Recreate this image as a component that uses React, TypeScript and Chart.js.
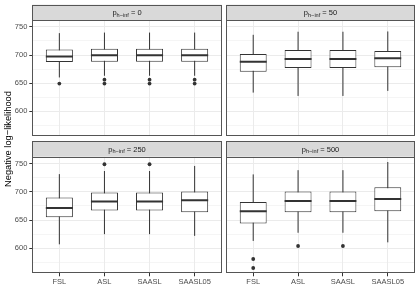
import { useEffect, useRef } from "react";
import { Chart, registerables } from "chart.js";

Chart.register(...registerables);

// ---------- data ----------
const categories = ["FSL", "ASL", "SAASL", "SAASL05"];
const panelValues = ["0", "50", "250", "500"];
const stripPrefix = "p";
const stripSubscript = "h−inf";
const yAxisTitle = "Negative log−likelihood";
const yTickLabels = [600, 650, 700, 750];

// p_h-inf = 0
const low0 = [660, 663, 663, 663];
const q1_0 = [687.5, 688, 688, 688];
const med0 = [697.5, 699.5, 699.5, 699.5];
const q3_0 = [710, 711, 711, 711];
const high0 = [739, 740, 740, 740];
const out0 = [[649], [656, 649], [656, 649], [656, 649]];

// p_h-inf = 50
const low50 = [633, 627, 627, 636];
const q1_50 = [670, 677, 677, 678];
const med50 = [688, 693, 693, 694];
const q3_50 = [702, 709, 709, 707];
const high50 = [736, 741.5, 741.5, 742];
const out50: number[][] = [[], [], [], []];

// p_h-inf = 250
const low250 = [607, 625, 625, 622];
const q1_250 = [655, 667, 667, 664];
const med250 = [671.5, 683, 683, 685];
const q3_250 = [690, 699, 699, 700.5];
const high250 = [731.5, 737, 737, 746];
const out250 = [[], [749], [749], []];

// p_h-inf = 500
const low500 = [613, 627.5, 627.5, 610.5];
const q1_500 = [644, 664, 664, 665.5];
const med500 = [665.5, 684, 684, 687.5];
const q3_500 = [682, 700.5, 700.5, 708];
const high500 = [731, 738.5, 738.5, 753];
const out500 = [[581, 565], [604], [604], []];

const panels = [
  { value: panelValues[0], low: low0, q1: q1_0, med: med0, q3: q3_0, high: high0, out: out0 },
  { value: panelValues[1], low: low50, q1: q1_50, med: med50, q3: q3_50, high: high50, out: out50 },
  { value: panelValues[2], low: low250, q1: q1_250, med: med250, q3: q3_250, high: high250, out: out250 },
  { value: panelValues[3], low: low500, q1: q1_500, med: med500, q3: q3_500, high: high500, out: out500 },
];

// shared y range with 5% expansion (ggplot default)
const allVals = panels.flatMap((p) => [...p.low, ...p.high, ...p.out.flat()]);
const dMin = Math.min(...allVals);
const dMax = Math.max(...allVals);
const Y_MIN = dMin - (dMax - dMin) * 0.05;
const Y_MAX = dMax + (dMax - dMin) * 0.05;

// ---------- layout / style ----------
const W = 420;
const H = 300;
const COLS = [
  { left: 32.3, right: 221.7 },
  { left: 226.3, right: 414.7 },
];
const ROWS = [
  { top: 20, bottom: 136 },
  { top: 156.7, bottom: 273.3 },
];
const STRIP_H = 15.3;
const FONT = "'Liberation Sans', Arial, sans-serif";
const DARK = "#333333";
const GRID = "#ebebeb";
const BOX_WIDTH = 0.6;

const isMajor = (v: number) => yTickLabels.includes(v);

function drawStripLabel(ctx: CanvasRenderingContext2D, cx: number, cy: number, value: string) {
  const main = `7.5px ${FONT}`;
  const sub = `5.6px ${FONT}`;
  const parts = [
    { t: stripPrefix, f: main, dy: 0 },
    { t: stripSubscript, f: sub, dy: 1.8 },
    { t: ` = ${value}`, f: main, dy: 0 },
  ];
  let total = 0;
  const widths = parts.map((p) => {
    ctx.font = p.f;
    const w = ctx.measureText(p.t).width;
    total += w;
    return w;
  });
  let x = cx - total / 2;
  const base = cy + 2.6;
  ctx.fillStyle = "#1a1a1a";
  ctx.textAlign = "left";
  ctx.textBaseline = "alphabetic";
  parts.forEach((p, i) => {
    ctx.font = p.f;
    ctx.fillText(p.t, x, base + p.dy);
    x += widths[i];
  });
}

function Panel({ idx }: { idx: number }) {
  const ref = useRef<HTMLCanvasElement>(null);

  useEffect(() => {
    const panel = panels[idx];
    const col = idx % 2;
    const row = Math.floor(idx / 2);
    const cb = COLS[col];
    const rb = ROWS[row];
    const showY = col === 0;
    const showX = row === 1;
    const yAxisWidth = showY ? cb.left : 0;
    const padLeft = showY ? 0 : cb.left;
    const padRight = W - cb.right;
    const padTop = rb.top;
    const padBottom = showX ? 10 : H - rb.bottom;
    const xAxisHeight = showX ? H - 10 - rb.bottom : 0;

    const whiskerData: { x: number; y: number | null }[] = [];
    categories.forEach((_, i) => {
      whiskerData.push({ x: i + 1, y: panel.low[i] });
      whiskerData.push({ x: i + 1, y: panel.high[i] });
      whiskerData.push({ x: i + 1, y: null });
    });
    const boxData = categories.map((_, i) => ({ x: i + 1, y: [panel.q1[i], panel.q3[i]] }));
    const outlierData: { x: number; y: number }[] = [];
    panel.out.forEach((arr, i) => arr.forEach((v) => outlierData.push({ x: i + 1, y: v })));

    const facetPlugin = {
      id: "facet",
      afterDatasetsDraw(chart: any) {
        const ctx = chart.ctx as CanvasRenderingContext2D;
        const meta = chart.getDatasetMeta(1);
        const ys = chart.scales.y;
        const a = chart.chartArea;
        ctx.save();
        ctx.beginPath();
        ctx.rect(a.left, a.top, a.right - a.left, a.bottom - a.top);
        ctx.clip();
        ctx.beginPath();
        meta.data.forEach((el: any, i: number) => {
          const { x, width } = el.getProps(["x", "width"], true);
          const py = ys.getPixelForValue(panel.med[i]);
          ctx.moveTo(x - width / 2, py);
          ctx.lineTo(x + width / 2, py);
        });
        ctx.lineWidth = 2;
        ctx.strokeStyle = DARK;
        ctx.stroke();
        ctx.restore();
      },
      afterDraw(chart: any) {
        const ctx = chart.ctx as CanvasRenderingContext2D;
        const a = chart.chartArea;
        ctx.save();
        // strip
        ctx.fillStyle = "#d9d9d9";
        ctx.fillRect(a.left, a.top - STRIP_H, a.right - a.left, STRIP_H);
        ctx.strokeStyle = "#555555";
        ctx.lineWidth = 1;
        const l = Math.round(a.left) + 0.5;
        const r = Math.round(a.right) - 0.5;
        const t = Math.round(a.top) + 0.5;
        const b = Math.round(a.bottom) - 0.5;
        const st = Math.round(a.top - STRIP_H) + 0.5;
        ctx.strokeRect(l, st, r - l, t - st);
        // panel border
        ctx.strokeRect(l, t, r - l, b - t);
        drawStripLabel(ctx, (a.left + a.right) / 2, a.top - STRIP_H / 2, panel.value);
        // y axis title (once)
        if (idx === 0) {
          const cy = (ROWS[0].top - STRIP_H + ROWS[1].bottom) / 2;
          ctx.translate(8.5, cy);
          ctx.rotate(-Math.PI / 2);
          ctx.font = `9.3px ${FONT}`;
          ctx.fillStyle = "#000000";
          ctx.textAlign = "center";
          ctx.textBaseline = "middle";
          ctx.fillText(yAxisTitle, 0, 0);
        }
        ctx.restore();
      },
    };

    const chart = new Chart(ref.current as HTMLCanvasElement, {
      type: "bar",
      data: {
        datasets: [
          {
            type: "line",
            data: whiskerData as any,
            borderColor: DARK,
            borderWidth: 1,
            pointRadius: 0,
            spanGaps: false,
            order: 2,
          } as any,
          {
            type: "bar",
            data: boxData as any,
            backgroundColor: "#ffffff",
            borderColor: DARK,
            borderWidth: 1,
            borderSkipped: false,
            barPercentage: BOX_WIDTH,
            categoryPercentage: 1,
            order: 1,
          } as any,
          {
            type: "scatter",
            data: outlierData as any,
            backgroundColor: DARK,
            borderWidth: 0,
            pointRadius: 1.9,
            order: 0,
          } as any,
        ],
      },
      options: {
        animation: false,
        responsive: false,
        events: [],
        layout: { padding: { left: padLeft, right: padRight, top: padTop, bottom: padBottom } },
        plugins: { legend: { display: false }, tooltip: { enabled: false }, title: { display: false } },
        scales: {
          x: {
            type: "linear",
            min: 0.4,
            max: 4.6,
            offset: false,
            border: { display: false },
            grid: {
              offset: false,
              color: GRID,
              lineWidth: 1,
              drawTicks: showX,
              tickLength: 3,
              tickColor: DARK,
            },
            ticks: {
              display: showX,
              stepSize: 1,
              includeBounds: false,
              autoSkip: false,
              maxRotation: 0,
              padding: 1.5,
              color: "#4d4d4d",
              font: { size: 7.5, family: FONT },
              callback: (v: any) => categories[Number(v) - 1] ?? "",
            },
            afterFit: (s: any) => {
              s.height = xAxisHeight;
            },
          } as any,
          y: {
            type: "linear",
            min: Y_MIN,
            max: Y_MAX,
            beginAtZero: false,
            border: { display: false },
            grid: {
              color: GRID,
              lineWidth: (c: any) => (isMajor(c.tick?.value) ? 1 : 0.5),
              drawTicks: showY,
              tickLength: 3,
              tickColor: (c: any) => (isMajor(c.tick?.value) ? DARK : "rgba(0,0,0,0)"),
            },
            ticks: {
              display: showY,
              stepSize: 25,
              includeBounds: false,
              padding: 2,
              color: "#4d4d4d",
              font: { size: 7.5, family: FONT },
              callback: (v: any) => (isMajor(Number(v)) ? String(v) : ""),
            },
            afterFit: (s: any) => {
              s.width = yAxisWidth;
            },
          } as any,
        },
      },
      plugins: [facetPlugin as any],
    });
    return () => chart.destroy();
  }, [idx]);

  return (
    <canvas
      ref={ref}
      width={W}
      height={H}
      style={{ position: "absolute", left: 0, top: 0, width: W, height: H }}
    />
  );
}

export default function App() {
  return (
    <div style={{ position: "absolute", left: 0, top: 0, width: W, height: H, background: "#ffffff" }}>
      {panels.map((_, i) => (
        <Panel key={i} idx={i} />
      ))}
    </div>
  );
}
